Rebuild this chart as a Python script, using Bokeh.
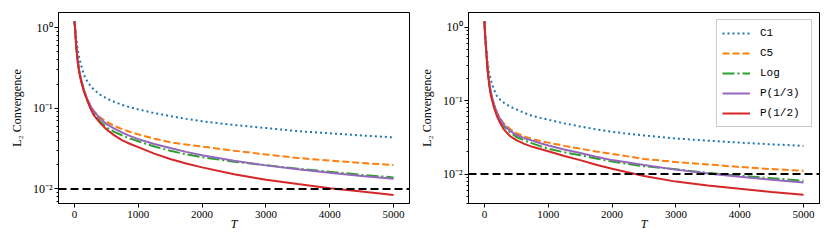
from bokeh.plotting import figure
from bokeh.models import Range1d, FixedTicker, Span, CustomJSTickFormatter
from bokeh.layouts import row
from bokeh.embed import file_html
from bokeh.resources import INLINE

# ---------------- data ----------------
T = [0, 10, 25, 50, 75, 100, 150, 200, 250, 300, 400, 500, 625, 750, 875, 1000,
     1250, 1500, 1750, 2000, 2500, 3000, 3500, 4000, 4500, 5000]

left_c1 = [1.2, 1.0, 0.78, 0.54, 0.419, 0.35, 0.26, 0.215, 0.190, 0.172, 0.148, 0.133,
           0.120, 0.110, 0.1028, 0.097, 0.0872, 0.080, 0.0739, 0.069,
           0.062, 0.057, 0.052, 0.049, 0.046, 0.0436]
left_c5 = [1.2, 0.98, 0.63, 0.40, 0.293, 0.235, 0.168, 0.13, 0.108, 0.093, 0.077, 0.068,
           0.0605, 0.055, 0.0508, 0.0475, 0.0420, 0.0380, 0.0355, 0.0335,
           0.0298, 0.0268, 0.0242, 0.0225, 0.0210, 0.0198]
left_log = [1.2, 0.98, 0.62, 0.39, 0.285, 0.228, 0.163, 0.126, 0.1028, 0.087, 0.069, 0.058,
            0.0510, 0.046, 0.0421, 0.0390, 0.0336, 0.0298, 0.0269, 0.0247,
            0.0218, 0.0197, 0.0178, 0.0163, 0.0150, 0.0139]
left_p13 = [1.2, 0.98, 0.63, 0.40, 0.293, 0.235, 0.167, 0.130, 0.1075, 0.092, 0.075, 0.064,
            0.0559, 0.050, 0.0452, 0.0415, 0.0361, 0.0322, 0.0288, 0.0262,
            0.0224, 0.0196, 0.0175, 0.0159, 0.0145, 0.0134]
left_p12 = [1.2, 0.97, 0.62, 0.38, 0.277, 0.222, 0.160, 0.125, 0.0998, 0.083, 0.066, 0.055,
            0.0461, 0.040, 0.0361, 0.0330, 0.0274, 0.0235, 0.0207, 0.0185,
            0.0152, 0.0130, 0.0115, 0.0102, 0.0093, 0.0084]

right_c1 = [1.2, 0.85, 0.56, 0.32, 0.236, 0.19, 0.14, 0.113, 0.102, 0.094, 0.083, 0.076,
            0.068, 0.062, 0.0582, 0.055, 0.049, 0.0445, 0.0406, 0.0375,
            0.0335, 0.0305, 0.0285, 0.0268, 0.0254, 0.0242]
right_c5 = [1.2, 0.80, 0.52, 0.27, 0.176, 0.13, 0.088, 0.068, 0.0568, 0.049, 0.041, 0.036,
            0.0326, 0.030, 0.0282, 0.0268, 0.0242, 0.0222, 0.0203, 0.0188,
            0.0161, 0.0146, 0.0135, 0.0125, 0.0117, 0.0111]
right_log = [1.2, 0.80, 0.51, 0.265, 0.171, 0.125, 0.085, 0.065, 0.0531, 0.045, 0.037, 0.032,
             0.0287, 0.0262, 0.0240, 0.0222, 0.0198, 0.0181, 0.0163, 0.0148,
             0.0128, 0.0116, 0.0104, 0.0095, 0.0088, 0.0081]
right_p13 = [1.2, 0.80, 0.52, 0.27, 0.176, 0.13, 0.088, 0.067, 0.0551, 0.047, 0.039, 0.034,
             0.0308, 0.0285, 0.0263, 0.0245, 0.0216, 0.0194, 0.0172, 0.0155,
             0.0133, 0.0115, 0.0102, 0.0092, 0.0084, 0.0077]
right_p12 = [1.2, 0.79, 0.50, 0.25, 0.161, 0.118, 0.080, 0.060, 0.0487, 0.041, 0.033, 0.029,
             0.0258, 0.0235, 0.0219, 0.0205, 0.0176, 0.0155, 0.0134, 0.0118,
             0.0094, 0.0079, 0.0070, 0.0063, 0.0057, 0.00525]

series_names = ["C1", "C5", "Log", "P(1/3)", "P(1/2)"]
THRESHOLD = 0.01
X_TICKS = [0, 1000, 2000, 3000, 4000, 5000]
Y_TICKS = [0.01, 0.1, 1]
Y_MINOR = [k * 10.0 ** e for e in (-3, -2, -1) for k in range(2, 10)]

# ---------------- styles ----------------
COLORS = ["#1f77b4", "#ff7f0e", "#2ca02c", "#9467bd", "#d62728"]
DASHES = ["2 3", "7 3", "12 3 2 3", "solid", "solid"]
SERIF = "Liberation Serif"

sup_js = """
const e = Math.round(Math.log10(tick));
const s = {'-':'\u207b','0':'\u2070','1':'\u00b9','2':'\u00b2','3':'\u00b3',
           '4':'\u2074','5':'\u2075','6':'\u2076','7':'\u2077','8':'\u2078','9':'\u2079'};
return '10' + String(e).split('').map(c => s[c]).join('');
"""


def make_panel(values, y_lo, y_hi, width, b_left, b_right, legend):
    p = figure(width=width, height=241,
               x_range=Range1d(-250, 5250), y_range=Range1d(y_lo, y_hi),
               y_axis_type="log", output_backend="svg", toolbar_location=None,
               min_border_left=b_left, min_border_right=b_right,
               min_border_top=12, min_border_bottom=38)
    p.xgrid.visible = False
    p.ygrid.visible = False
    p.outline_line_color = "black"
    p.outline_line_alpha = 1.0
    p.outline_line_width = 1
    p.background_fill_color = "white"
    p.border_fill_color = "white"

    p.xaxis.ticker = FixedTicker(ticks=X_TICKS)
    p.yaxis.ticker = FixedTicker(ticks=Y_TICKS, minor_ticks=Y_MINOR)
    p.yaxis.formatter = CustomJSTickFormatter(code=sup_js)
    for ax in (p.xaxis, p.yaxis):
        ax.axis_line_color = "black"
        ax.major_tick_line_color = "black"
        ax.minor_tick_line_color = "black"
        ax.major_tick_in = 0
        ax.major_tick_out = 4
        ax.minor_tick_in = 0
        ax.minor_tick_out = 2
        ax.major_label_text_font = SERIF
        ax.major_label_text_font_size = "11px"
        ax.major_label_text_color = "black"
        ax.axis_label_text_font = SERIF
        ax.axis_label_text_font_size = "12px"
        ax.axis_label_text_color = "black"
    p.yaxis.major_label_text_font_size = "12px"
    p.xaxis.minor_tick_line_color = None
    p.xaxis.major_label_standoff = 3
    p.yaxis.major_label_standoff = 2
    p.xaxis.axis_label = "T"
    p.xaxis.axis_label_text_font_style = "italic"
    p.xaxis.axis_label_standoff = -4
    p.yaxis.axis_label = "L\u2082 Convergence"
    p.yaxis.axis_label_text_font_style = "normal"
    p.yaxis.axis_label_standoff = 6

    for name, vals, c, d in zip(series_names, values, COLORS, DASHES):
        kw = {"legend_label": name} if legend else {}
        p.line(T, vals, line_color=c, line_width=2, line_dash=d, **kw)

    p.add_layout(Span(location=THRESHOLD, dimension="width", line_color="black",
                      line_dash="8 4", line_width=2))

    if legend:
        lg = p.legend[0]
        lg.location = "top_right"
        lg.margin = 7
        lg.padding = 5
        lg.spacing = 4
        lg.label_height = 16
        lg.glyph_height = 16
        lg.glyph_width = 28
        lg.label_width = 46
        lg.label_standoff = 10
        lg.label_text_font = "Liberation Mono"
        lg.label_text_font_size = "11px"
        lg.label_text_color = "black"
        lg.border_line_color = "#cccccc"
        lg.border_line_alpha = 1.0
        lg.background_fill_alpha = 0.8
    return p


p1 = make_panel([left_c1, left_c5, left_log, left_p13, left_p12],
                0.0066, 1.54, 415, 58, 6, False)
p2 = make_panel([right_c1, right_c5, right_log, right_p13, right_p12],
                0.00398, 1.58, 415, 53, 11, True)

layout = row(p1, p2)
open("out.html", "w").write(file_html(layout, INLINE))
